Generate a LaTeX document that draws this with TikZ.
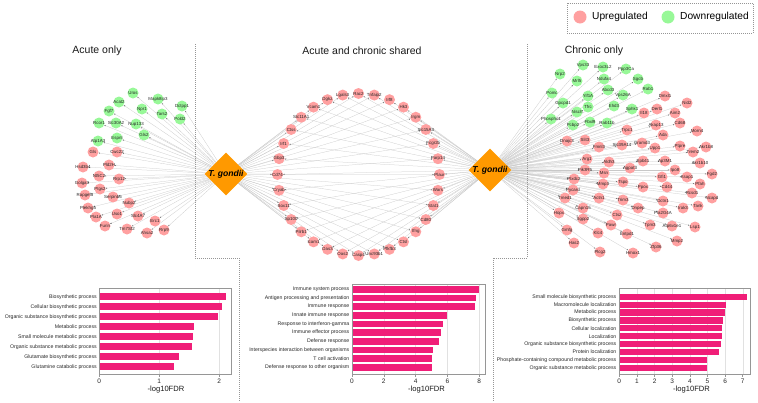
\documentclass[tikz,border=0pt]{standalone}
\usepackage{fontspec}
\setmainfont{Liberation Sans}
\usetikzlibrary{shapes.geometric,arrows.meta}
\definecolor{upc}{RGB}{255,160,160}
\definecolor{dnc}{RGB}{152,248,152}
\definecolor{tgc}{RGB}{255,153,0}
\definecolor{barc}{RGB}{240,30,120}
\definecolor{edgec}{RGB}{200,200,200}
\definecolor{boxc}{RGB}{150,150,150}
\definecolor{gridc}{RGB}{225,225,225}
\pgfdeclarelayer{edges}
\pgfsetlayers{edges,main}
\tikzset{
  gene/.style={circle, minimum size=11pt, inner sep=0pt, draw=none},
  upg/.style={gene, fill=upc},
  dng/.style={gene, fill=dnc},
  glab/.style={font=\fontsize{4.4}{5}\selectfont, text=black!85, inner sep=0pt},
  edge/.style={draw=edgec, line width=0.25pt, -{Stealth[length=1.5pt,width=1.3pt,color=black!55]}},
  tgd/.style={diamond, fill=tgc, minimum width=43pt, minimum height=43pt, inner sep=0pt},
  tgt/.style={font=\bfseries\itshape\fontsize{8.6}{9}\selectfont, inner sep=0pt},
  ttl/.style={font=\fontsize{10.5}{12}\selectfont, text=black!90},
  catlab/.style={font=\fontsize{5.2}{6}\selectfont, text=black!85, anchor=east, inner sep=0pt},
  ticklab/.style={font=\fontsize{6.5}{7}\selectfont, text=black!85, inner sep=0pt},
  axlab/.style={font=\fontsize{7.6}{8}\selectfont, text=black!90, inner sep=0pt},
  panel/.style={draw=boxc, line width=0.4pt, dash pattern=on 1pt off 1pt},
  chartbox/.style={draw=boxc, line width=0.6pt},
  gridln/.style={draw=gridc, line width=0.4pt},
  legtxt/.style={font=\fontsize{10.2}{12}\selectfont, anchor=west, inner sep=0pt}
}
\begin{document}
\begin{tikzpicture}[x=1pt,y=-1pt]
\useasboundingbox (0,0) rectangle (758,402);

% legend
\draw[panel] (567,3) rectangle (753,33);
\node[circle, fill=upc, minimum size=13pt, inner sep=0pt] (legup) at (580,17) {};
\node[legtxt] (leguptxt) at (592,17) {Upregulated};
\node[circle, fill=dnc, minimum size=13pt, inner sep=0pt] (legdn) at (668,17) {};
\node[legtxt] (legdntxt) at (680,17) {Downregulated};

% panel borders
\draw[panel] (195,44) -- (195,258) -- (239,258) -- (239,402);
\draw[panel] (527,44) -- (527,258) -- (493,258) -- (493,402);

% titles
\node[ttl] (t1) at (97,51) {Acute only};
\node[ttl] (t2) at (362,51) {Acute and chronic shared};
\node[ttl] (t3) at (594,51) {Chronic only};

% diamonds
\node[tgd] (TL) at (226,174) {};
\node[tgt] (TLt) at (TL) {T. gondii};
\node[tgd] (TR) at (490,170) {};
\node[tgt] (TRt) at (TR) {T. gondii};

% left: acute only, downregulated
\foreach \x/\y/\t [count=\i] in {133/93/Uros,158/99/Mapk8ip3,182/106/Dctpp1,119/102/Acat2,142/109/Npr1,162/114/Tars2,180/119/Pold2,109/111/Fgf7,99/123/Rcor1,116/123/Slc30A2,136/124/Nup133,144/135/Gls2,98/141/Atp1A3,117/138/Espnl}
  \node[dng, label={[glab]center:\t}] (LG\i) at (\x,\y) {};
% left: acute only, upregulated
\foreach \x/\y/\t [count=\i] in {93/152/Gls,117/152/Cwc22,83/167/Hsd3b4,109/165/Pld2H,99/176/Nt5C2,119/179/Rrp12,82/183/Golga3,100/189/Ptgs2,85/195/Rapgef3,113/197/Serpinb6,129/203/Nubp2,88/208/Plekhg5,96/217/Pla1A,117/214/Uso1,138/216/Slc4A7,155/221/Erc1,105/226/Furin,127/229/Tm7Sf2,147/233/Ahsa2,164/230/Rrp9}
  \node[upg, label={[glab]center:\t}] (LR\i) at (\x,\y) {};

% middle: shared
\foreach \t [count=\i from 0] in {Rac2,Tnfaip2,Irf8,Hk3,Irgm,Slc15A3,Fcgr2b,Parp14,Plaur,Wars,Stat1,Cd80,Ifng,Ctsl,Pfkfb3,Unc93b1,Casp4,Oas2,Oas3,Icam1,Pilrb1,Sp100,Sox11,Cryab,Cd74,Gbp3,Irf1,Ctss,Slc11A1,Vcam1,Dgkz,Lgals3}
  \node[upg, label={[glab]center:\t}] (M\i) at ({358.5+81*cos(-90+\i*11.25)},{174.5+81*sin(-90+\i*11.25)}) {};

% right: chronic only, downregulated
\foreach \x/\y/\t [count=\i] in {583/65/Vps33,603/67/Exoc3L2,626/69/Ppp3Ca,560/74/Nrp2,577/81/Mrl5,604/79/Ndufa4,638/79/Sgcb,588/96/Yif1A,608/90/Abcd3,648/89/Rab1,552/93/Pomc,623/95/Vps26A,563/103/Gpcpd1,588/107/Tfrc,614/106/Ehd3,632/109/Sphk1,577/112/Nisch,551/119/Phospho1,573/125/Pcbp2,590/122/Fbxl9,607/123/Rab11b}
  \node[dng, label={[glab]center:\t}] (RG\i) at (\x,\y) {};
% right: chronic only, upregulated
\foreach \x/\y/\t [count=\i] in {665/96/Dmxl1,687/103/Nid2,644/113/Il18,657/109/Derl1,675/113/Aim2,656/125/Akap13,680/123/Cd68,663/135/Ada,697/131/Morn4,642/143/Gramd3,655/148/Upp1,680/146/Ptpre,693/152/Trem2,706/147/Akr1b8,643/161/Epb41,665/161/Ap3M1,700/163/Akr1b10,630/168/Agpat3,675/170/Ipo8,712/174/Fgd2,662/177/Gfi1,687/177/Ksap1,700/184/Pfah,643/187/Ppox,667/187/Cd44,692/193/Rcsd1,712/198/Ncapd,663/201/Dctn1,683/208/Irak3,698/206/Tank,638/208/Dnpep,663/213/Pla2G4A,650/225/Tpm3,672/226/Atp6v1e1,695/227/Lsp1,677/241/Mmp2,656/247/Zfp36,627/130/Trpc1,567/141/Dnajc3,585/140/Slit3,599/147/Fmnl3,622/145/Slc39A14,587/159/Arg1,609/162/Aldh3,585/170/Pik3R5,604/173/Msn,574/179/Plxdc2,603/184/Mmp3,623/182/Tspo,573/190/Pycard,565/198/Tmed1,599/198/Actn1,623/200/Trim3,559/213/Hopx,583/208/Capn15,583/219/Sgpp2,617/215/Ctsz,567/230/Gmfg,611/225/Pawr,627/234/Entpd1,598/233/Klc4,574/243/Has2,600/252/Plcg2,633/253/Hmox1}
  \node[upg, label={[glab]center:\t}] (RR\i) at (\x,\y) {};

% edges
\begin{pgfonlayer}{edges}
\foreach \i in {1,...,14} \draw[edge] (TL) -- (LG\i);
\foreach \i in {1,...,20} \draw[edge] (TL) -- (LR\i);
\foreach \i in {0,...,31} {\draw[edge] (TL) -- (M\i); \draw[edge] (TR) -- (M\i);}
\foreach \i in {1,...,21} \draw[edge] (TR) -- (RG\i);
\foreach \i in {1,...,64} \draw[edge] (TR) -- (RR\i);
\end{pgfonlayer}

% chart 1
\foreach \g in {1,2} \draw[gridln] ({99.3+\g*60},288) -- ({99.3+\g*60},374);
\foreach \v/\t [count=\k] in {2.11/Biosynthetic process,2.04/Cellular biosynthetic process,1.98/Organic substance biosynthetic process,1.58/Metabolic process,1.56/Small molecule metabolic process,1.55/Organic substance metabolic process,1.32/Glutamate biosynthetic process,1.25/Glutamine catabolic process}{
  \fill[barc] (99.3,{296.7+10*(\k-1)-3.6}) rectangle ({99.3+\v*60},{296.7+10*(\k-1)+3.6});
  \node[catlab] at (97,{296.7+10*(\k-1)}) {\t};
}
\draw[chartbox] (99.3,288) rectangle (231.7,374);
\foreach \g in {0,1,2} {\draw[chartbox] ({99.3+\g*60},374) -- ({99.3+\g*60},376.5); \node[ticklab] at ({99.3+\g*60},381.5) {\g};}
\node[axlab] (ax1) at (166,389.5) {-log10FDR};

% chart 2
\foreach \g in {2,4,6,8} \draw[gridln] ({352+\g*15.9},284) -- ({352+\g*15.9},374);
\foreach \v/\t [count=\k] in {8.0/Immune system process,7.8/Antigen processing and presentation,7.75/Immune response,6.0/Innate immune response,5.7/Response to interferon-gamma,5.6/Immune effector process,5.45/Defense response,5.08/Interspecies interaction between organisms,5.04/T cell activation,5.0/Defense response to other organism}{
  \fill[barc] (352,{289.3+8.67*(\k-1)-3.3}) rectangle ({352+\v*15.9},{289.3+8.67*(\k-1)+3.3});
  \node[catlab] at (349.5,{289.3+8.67*(\k-1)}) {\t};
}
\draw[chartbox] (352,284) rectangle (485.3,374);
\foreach \g in {0,2,4,6,8} {\draw[chartbox] ({352+\g*15.9},374) -- ({352+\g*15.9},376.5); \node[ticklab] at ({352+\g*15.9},381.5) {\g};}
\node[axlab] (ax2) at (426.5,389.5) {-log10FDR};

% chart 3
\foreach \g in {1,...,7} \draw[gridln] ({619.3+\g*17.63},288) -- ({619.3+\g*17.63},374);
\foreach \v/\t [count=\k] in {7.22/Small molecule biosynthetic process,6.03/Macromolecule localization,6.0/Metabolic process,5.9/Biosynthetic process,5.82/Cellular localization,5.82/Localization,5.78/Organic substance biosynthetic process,5.65/Protein localization,5.0/Phosphate-containing compound metabolic process,5.0/Organic substance metabolic process}{
  \fill[barc] (619.3,{296.7+7.9*(\k-1)-3.1}) rectangle ({619.3+\v*17.63},{296.7+7.9*(\k-1)+3.1});
  \node[catlab] at (616.5,{296.7+7.9*(\k-1)}) {\t};
}
\draw[chartbox] (619.3,288) rectangle (750.7,374);
\foreach \g in {0,...,7} {\draw[chartbox] ({619.3+\g*17.63},374) -- ({619.3+\g*17.63},376.5); \node[ticklab] at ({619.3+\g*17.63},381.5) {\g};}
\node[axlab] (ax3) at (691.5,389.5) {-log10FDR};
\end{tikzpicture}
\end{document}
